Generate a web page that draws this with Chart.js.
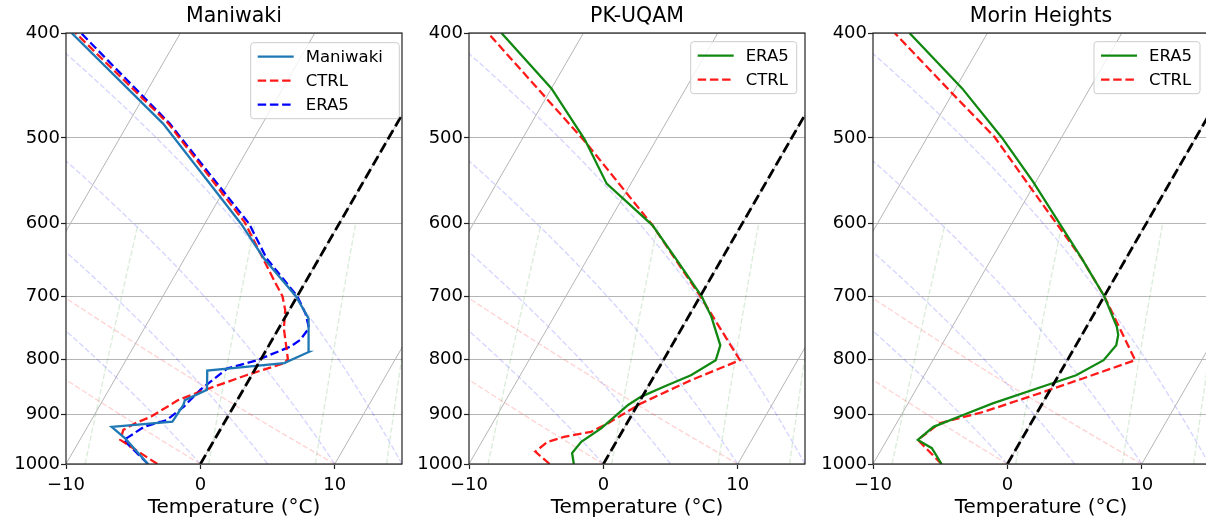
<!DOCTYPE html>
<html>
<head>
<meta charset="utf-8">
<script src="https://cdn.jsdelivr.net/npm/chart.js@4.4.0/dist/chart.umd.min.js"></script>
<style>
  html, body { margin: 0; padding: 0; background: #fff; overflow: hidden; }
  body { width: 1206px; height: 522px; position: relative; }
  .panel { position: absolute; top: 0; width: 406px; height: 522px; }
</style>
</head>
<body>
<div class="panel" style="left:0px"><canvas id="chart1" width="406" height="522"></canvas></div>
<div class="panel" style="left:403px"><canvas id="chart2" width="406" height="522"></canvas></div>
<div class="panel" style="left:807px"><canvas id="chart3" width="406" height="522"></canvas></div>
<script>
// Axis ticks
const P_TICKS = [1000, 900, 800, 700, 600, 500, 400];
const T_TICKS = [-10, 0, 10];

// Maniwaki: sounding, CTRL, ERA5 (pressure hPa / temperature degC)
const P_MAN = [1000, 947, 924, 914, 882, 873, 854, 820, 807, 788, 734, 700, 646, 600, 485, 400];
const T_MAN = [-3.9, -6.7, -8.2, -3.9, -3.8, -3.9, -2.7, -3.5, 1.9, 3.25, 1.8, -0.1, -4.1, -7.3, -17.4, -28.1];
const P_CTRL_MAN = [1000, 950, 930, 917, 904, 873, 857, 828, 807, 800, 750, 721, 700, 676, 598, 485, 400];
const T_CTRL_MAN = [-3.2, -7.0, -7.2, -6.6, -5.7, -4.4, -3.1, -0.4, 1.9, 2.0, 0.4, -0.3, -1.1, -2.45, -7.1, -17.0, -27.8];
const P_ERA_MAN = [1000, 950, 944, 924, 911, 885, 854, 816, 802, 779, 768, 749, 726, 700, 646, 600, 485, 400];
const T_ERA_MAN = [-3.9, -6.75, -6.5, -5.8, -4.4, -3.7, -3.2, -2.1, -0.25, 1.66, 2.1, 2.24, 1.35, 0.0, -3.9, -6.7, -16.9, -27.4];

// PK-UQAM
const P_ERA_PK = [1000, 977, 954, 927, 904, 882, 867, 848, 828, 802, 777, 731, 700, 646, 602, 551, 502, 450, 400];
const T_ERA_PK = [-2.2, -2.8, -2.6, -1.7, -1.2, -0.7, -0.1, 1.2, 2.7, 3.9, 3.6, 1.7, 0.1, -3.45, -6.6, -11.8, -15.3, -20.0, -26.1];
const P_CTRL_PK = [1000, 974, 954, 944, 934, 917, 879, 837, 802, 700, 602, 505, 400];
const T_CTRL_PK = [-4.0, -5.6, -5.1, -4.1, -2.3, -1.4, 0.2, 2.9, 5.7, 0.0, -6.6, -15.1, -27.1];

// Morin Heights
const P_ERA_MH = [1000, 967, 950, 924, 901, 879, 840, 828, 802, 777, 760, 747, 700, 646, 549, 500, 450, 400];
const T_ERA_MH = [-4.9, -6.3, -7.7, -7.1, -5.4, -3.7, 0.1, 1.3, 2.7, 3.0, 2.7, 2.25, 0.0, -3.3, -10.2, -14.4, -19.5, -25.8];
const P_CTRL_MH = [1000, 950, 917, 895, 858, 831, 802, 700, 646, 555, 499, 455, 400];
const T_CTRL_MH = [-4.9, -7.7, -6.8, -4.0, -0.4, 2.2, 5.05, 0.0, -3.3, -10.2, -15.0, -20.0, -26.9];

// Skew-T background lines
const ISOTHERMS = [-30, -20, -10, 0, 10, 20];
const DRY_ADIABATS = [-10, 0, 10];
const MOIST_ADIABATS = [-10, 0, 5, 10, 15];
const MIXING_RATIOS = [0.0004, 0.001, 0.002, 0.004, 0.007, 0.01, 0.016, 0.024, 0.032];

// 30 degree skew for a 336 x 431 plot area spanning -10..15 degC and 1000..400 hPa
const SKEW = Math.tan(Math.PI / 6) * (431 / Math.log(1000 / 400)) / (336 / 25);

const RD = 287.04749, CP = 1004.66, LV = 2.50084e6, EPS = 0.6219569;

function skewX(t, p) {
    return t + SKEW * Math.log(1000 / p);
}

function toPoints(pres, temp) {
    return pres.map((p, i) => ({ x: skewX(temp[i], p), y: p }));
}

function levels(pTop) {
    const out = [];
    for (let p = 1000; p >= pTop; p -= 10) out.push(p);
    return out;
}

function dryAdiabat(t0) {
    return levels(400).map(p => ({ x: skewX((t0 + 273.15) * Math.pow(p / 1000, RD / CP) - 273.15, p), y: p }));
}

function moistSlope(p, tK) {
    const es = 6.112 * Math.exp(17.67 * (tK - 273.15) / (tK - 29.65));
    const rs = EPS * es / (p - es);
    return (RD * tK + LV * rs) / p / (CP + LV * LV * rs * EPS / (RD * tK * tK));
}

function moistAdiabat(t0) {
    let t = t0 + 273.15, p = 1000;
    const dp = -5;
    const pts = [{ x: skewX(t0, 1000), y: 1000 }];
    while (p > 400) {
        const k1 = moistSlope(p, t);
        const k2 = moistSlope(p + dp / 2, t + dp / 2 * k1);
        const k3 = moistSlope(p + dp / 2, t + dp / 2 * k2);
        const k4 = moistSlope(p + dp, t + dp * k3);
        t += dp / 6 * (k1 + 2 * k2 + 2 * k3 + k4);
        p += dp;
        pts.push({ x: skewX(t - 273.15, p), y: p });
    }
    return pts;
}

function mixingLine(w) {
    return levels(600).map(p => {
        const v = Math.log(p * w / (EPS + w) / 6.112);
        return { x: skewX(243.5 * v / (17.67 - v), p), y: p };
    });
}

function bgLine(data, color, dash, width) {
    return { data: data, borderColor: color, borderWidth: width, borderDash: dash, order: 5 };
}

function buildDatasets(series) {
    const ds = series.map(s => ({
        label: s.label,
        data: toPoints(s.p, s.t),
        borderColor: s.color,
        borderWidth: 2.3,
        borderDash: s.dash,
        inLegend: true,
        order: 1
    }));
    // 0 degC isotherm
    ds.push({ data: [{ x: skewX(0, 1000), y: 1000 }, { x: skewX(0, 400), y: 400 }],
        borderColor: '#000', borderWidth: 2.8, borderDash: [10.5, 4.5], order: 0 });
    ISOTHERMS.forEach(t => ds.push(bgLine([{ x: skewX(t, 1000), y: 1000 }, { x: skewX(t, 400), y: 400 }], '#b5b5b5', [], 1)));
    DRY_ADIABATS.forEach(t => ds.push(bgLine(dryAdiabat(t), 'rgba(255, 0, 0, 0.17)', [5.5, 2.4], 1.4)));
    MOIST_ADIABATS.forEach(t => ds.push(bgLine(moistAdiabat(t), 'rgba(0, 0, 255, 0.16)', [5.5, 2.4], 1.4)));
    MIXING_RATIOS.forEach(w => ds.push(bgLine(mixingLine(w), 'rgba(0, 128, 0, 0.14)', [5.5, 2.4], 1.4)));
    return ds;
}

// Frame, title, x label and legend drawn over the plot
const skewFrame = {
    id: 'skewFrame',
    afterDraw(chart, args, opts) {
        const ctx = chart.ctx;
        const a = chart.chartArea;
        const cx = (a.left + a.right) / 2;
        ctx.save();
        ctx.strokeStyle = '#222';
        ctx.lineWidth = 1.2;
        ctx.strokeRect(a.left, a.top, a.right - a.left, a.bottom - a.top);

        ctx.fillStyle = '#000';
        ctx.textAlign = 'center';
        ctx.textBaseline = 'middle';
        ctx.font = '20.5px "DejaVu Sans"';
        ctx.fillText(opts.title, cx, 17);
        ctx.font = '20px "DejaVu Sans"';
        ctx.fillText('Temperature (°C)', cx, 508);

        // legend
        const items = chart.data.datasets.filter(d => d.inLegend);
        ctx.font = '16.5px "DejaVu Sans"';
        const textW = Math.max(...items.map(d => ctx.measureText(d.label).width));
        const w = opts.legendWidth || (7 + 36 + 12 + textW + 8);
        const rowH = 24;
        const h = 28 + (items.length - 1) * rowH;
        const x1 = a.right - opts.legendRight - w;
        const y1 = a.top + opts.legendTop;
        ctx.beginPath();
        ctx.roundRect(x1, y1, w, h, 3);
        ctx.fillStyle = 'rgba(255, 255, 255, 0.8)';
        ctx.fill();
        ctx.strokeStyle = '#cccccc';
        ctx.lineWidth = 1;
        ctx.stroke();
        items.forEach((d, i) => {
            const y = y1 + 14 + i * rowH;
            ctx.beginPath();
            ctx.setLineDash(d.borderDash || []);
            ctx.strokeStyle = d.borderColor;
            ctx.lineWidth = d.borderWidth;
            ctx.moveTo(x1 + 7, y);
            ctx.lineTo(x1 + 43, y);
            ctx.stroke();
            ctx.setLineDash([]);
            ctx.fillStyle = '#000';
            ctx.textAlign = 'left';
            ctx.fillText(d.label, x1 + 55, y + 1);
        });
        ctx.restore();
    }
};

function makeChart(id, title, series, legend) {
    const ctx = document.getElementById(id).getContext('2d');
    new Chart(ctx, {
        type: 'line',
        data: { datasets: buildDatasets(series) },
        options: {
            responsive: false,
            animation: false,
            events: [],
            layout: { padding: { top: 33, right: 4, left: 0, bottom: 0 } },
            elements: { point: { radius: 0 }, line: { tension: 0 } },
            plugins: {
                legend: { display: false },
                tooltip: { enabled: false },
                skewFrame: { title: title, legendRight: legend.right, legendTop: legend.top, legendWidth: legend.width }
            },
            scales: {
                x: {
                    type: 'linear',
                    min: -10,
                    max: 15,
                    afterBuildTicks: scale => { scale.ticks = T_TICKS.map(v => ({ value: v })); },
                    afterFit: scale => { scale.height = 58; },
                    grid: { drawOnChartArea: false, tickColor: '#222', tickLength: 5, tickWidth: 1.2 },
                    border: { display: false },
                    ticks: {
                        autoSkip: false,
                        maxRotation: 0,
                        padding: 5.5,
                        color: '#000',
                        font: { family: '"DejaVu Sans"', size: 18 },
                        callback: v => (v < 0 ? '\u2212' + Math.abs(v) : String(v))
                    }
                },
                y: {
                    type: 'logarithmic',
                    reverse: true,
                    min: 400,
                    max: 1000,
                    afterBuildTicks: scale => { scale.ticks = P_TICKS.map(v => ({ value: v })); },
                    afterFit: scale => { scale.width = 66; },
                    grid: { color: '#b5b5b5', lineWidth: 1, tickColor: '#222', tickLength: 5, tickWidth: 1.2 },
                    border: { display: false },
                    ticks: {
                        autoSkip: false,
                        padding: 1,
                        color: '#000',
                        font: { family: '"DejaVu Sans"', size: 18 },
                        callback: v => String(v)
                    }
                }
            }
        },
        plugins: [skewFrame]
    });
}

// Maniwaki chart
makeChart('chart1', 'Maniwaki', [
    { label: 'Maniwaki', p: P_MAN, t: T_MAN, color: '#1f77b4', dash: [] },
    { label: 'CTRL', p: P_CTRL_MAN, t: T_CTRL_MAN, color: 'rgba(255, 0, 0, 0.9)', dash: [8.5, 3.7] },
    { label: 'ERA5', p: P_ERA_MAN, t: T_ERA_MAN, color: '#0000ff', dash: [8.5, 3.7] }
], { right: 2.7, top: 9.7, width: 148.6 });

// PK-UQAM chart
makeChart('chart2', 'PK-UQAM', [
    { label: 'ERA5', p: P_ERA_PK, t: T_ERA_PK, color: '#118811', dash: [] },
    { label: 'CTRL', p: P_CTRL_PK, t: T_CTRL_PK, color: 'rgba(255, 0, 0, 0.9)', dash: [8.5, 3.7] }
], { right: 8.3, top: 8.7 });

// Morin Heights chart
makeChart('chart3', 'Morin Heights', [
    { label: 'ERA5', p: P_ERA_MH, t: T_ERA_MH, color: '#118811', dash: [] },
    { label: 'CTRL', p: P_CTRL_MH, t: T_CTRL_MH, color: 'rgba(255, 0, 0, 0.9)', dash: [8.5, 3.7] }
], { right: 9, top: 8.7 });
</script>
</body>
</html>
